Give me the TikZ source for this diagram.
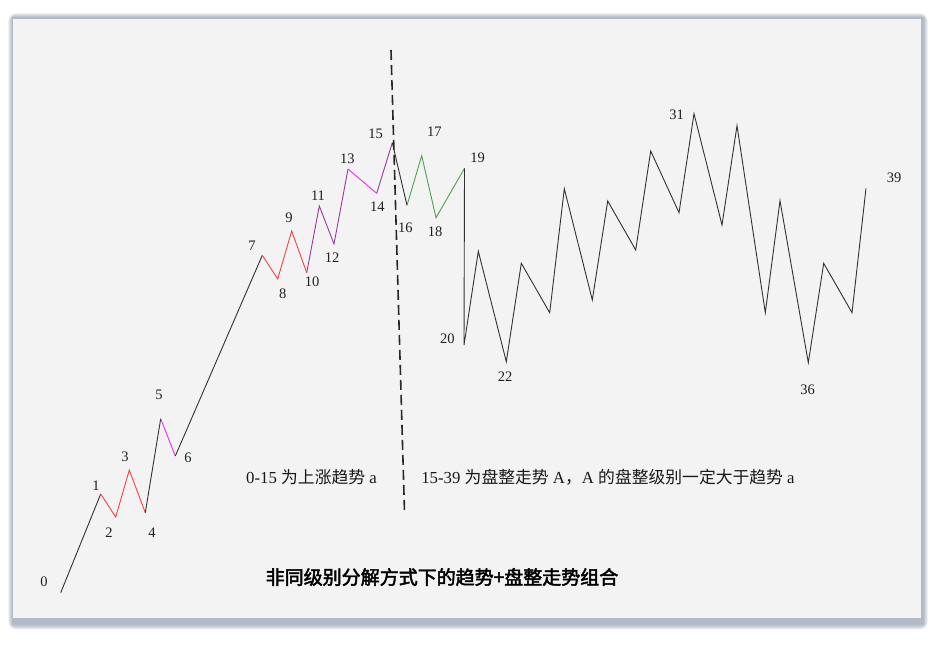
\documentclass[tikz,border=0pt]{standalone}
\usepackage{fontspec}
\setmainfont{Liberation Serif}
\newfontfamily\cjk{Noto Sans CJK SC}
\newfontfamily\cjkbf[FakeBold=2.5]{Noto Sans CJK SC}
\definecolor{fondo}{RGB}{243,243,243}
\definecolor{sombra}{RGB}{90,110,135}
\definecolor{rojo}{RGB}{255,64,64}
\definecolor{rosa}{RGB}{245,40,245}
\definecolor{morado}{RGB}{150,60,150}
\definecolor{verde}{RGB}{80,160,80}
\definecolor{gris}{RGB}{50,50,50}

\begin{document}
\begin{tikzpicture}[x=1pt, y=-1pt,
        etiqueta/.style={inner sep=0pt, font=\fontsize{14.5}{14.5}\selectfont, text=black!88},
        texto/.style={inner sep=0pt, font=\fontsize{16.8}{16.8}\selectfont, text=black!90},
        titulo/.style={inner sep=0pt, font=\fontsize{19}{19}\selectfont\cjkbf, text=black},
        tramo/.style={draw=gris, line width=0.9pt, line join=miter},
        corte/.style={draw=black!85, line width=1.6pt, dash pattern=on 10pt off 5pt}
    ]
    \useasboundingbox (0,0) rectangle (941,646);
    % marco con sombra
    \foreach \d in {1,...,8}
        \fill[sombra, opacity=0.08, rounded corners=\d pt] (13-0.6*\d,18-0.6*\d) rectangle (923+0.6*\d,624+0.7*\d);
    \fill[fondo] (13,19) rectangle (921,618);

    % puntos de la onda
    \coordinate (p0) at (60.7,592.7);  \coordinate (p1) at (100.7,494);   \coordinate (p2) at (115.7,517);
    \coordinate (p3) at (129.3,470);   \coordinate (p4) at (145.3,512.7); \coordinate (p5) at (160.7,418.7);
    \coordinate (p6) at (175.3,456);   \coordinate (p7) at (262.3,255.3); \coordinate (p8) at (277.7,279);
    \coordinate (p9) at (291.7,231);   \coordinate (p10) at (306.7,272.7);\coordinate (p11) at (319.3,206);
    \coordinate (p12) at (334,244);    \coordinate (p13) at (348,169);    \coordinate (p14) at (376.7,193.3);
    \coordinate (p15) at (392.3,142.7);\coordinate (p16) at (407,205.3);  \coordinate (p17) at (421.7,155.7);
    \coordinate (p18) at (436,217.7);  \coordinate (p19) at (464.5,168.3);\coordinate (p20) at (464,345);
    \coordinate (p21) at (478.3,251.3);\coordinate (p22) at (506.3,361.7);\coordinate (p23) at (521.3,263.3);
    \coordinate (p24) at (549.7,312.7);\coordinate (p25) at (564.3,188.7);\coordinate (p26) at (592.3,300);
    \coordinate (p27) at (607.7,201);  \coordinate (p28) at (635.7,250);  \coordinate (p29) at (650.7,151);
    \coordinate (p30) at (679,212.7);  \coordinate (p31) at (694,113.7);  \coordinate (p32) at (722,225);
    \coordinate (p33) at (737,125.7);  \coordinate (p34) at (765.3,312.7);\coordinate (p35) at (780,200.7);
    \coordinate (p36) at (808.3,362.7);\coordinate (p37) at (823.7,263.3);\coordinate (p38) at (852,312.7);
    \coordinate (p39) at (866,188.3);

    % tramos
    \draw[tramo] (p0) -- (p1);
    \draw[tramo, draw=rojo] (p1) -- (p2) -- (p3) -- (p4);
    \draw[tramo] (p4) -- (p5);
    \draw[tramo, draw=rosa] (p5) -- (p6);
    \draw[tramo] (p6) -- (p7);
    \draw[tramo, draw=rojo] (p7) -- (p8) -- (p9) -- (p10);
    \draw[tramo, draw=morado] (p10) -- (p11) -- (p12) -- (p13);
    \draw[tramo, draw=rosa] (p13) -- (p14);
    \draw[tramo, draw=morado] (p14) -- (p15);
    \draw[tramo] (p15) -- (p16);
    \draw[tramo, draw=verde] (p16) -- (p17) -- (p18) -- (p19);
    \draw[tramo] (p19) -- (p20) -- (p21) -- (p22) -- (p23) -- (p24) -- (p25) -- (p26) -- (p27)
        -- (p28) -- (p29) -- (p30) -- (p31) -- (p32) -- (p33) -- (p34) -- (p35) -- (p36)
        -- (p37) -- (p38) -- (p39);

    % etiquetas
    \node[etiqueta] (e0) at (44,582) {0};
    \node[etiqueta] (e1) at (96,486) {1};
    \node[etiqueta] (e2) at (109,533) {2};
    \node[etiqueta] (e3) at (125,457) {3};
    \node[etiqueta] (e4) at (152,533) {4};
    \node[etiqueta] (e5) at (159,395) {5};
    \node[etiqueta] (e6) at (188,458) {6};
    \node[etiqueta] (e7) at (252,245.7) {7};
    \node[etiqueta] (e8) at (282.7,294) {8};
    \node[etiqueta] (e9) at (289,218) {9};
    \node[etiqueta] (e10) at (312,282) {10};
    \node[etiqueta] (e11) at (318,195.7) {11};
    \node[etiqueta] (e12) at (332,258) {12};
    \node[etiqueta] (e13) at (347.3,158.3) {13};
    \node[etiqueta] (e14) at (377.3,206.7) {14};
    \node[etiqueta] (e15) at (375.7,133.3) {15};
    \node[etiqueta] (e16) at (405.3,227.3) {16};
    \node[etiqueta] (e17) at (434.3,132) {17};
    \node[etiqueta] (e18) at (435,232) {18};
    \node[etiqueta] (e19) at (477.7,157.3) {19};
    \node[etiqueta] (e20) at (447.3,338.7) {20};
    \node[etiqueta] (e22) at (505,376.7) {22};
    \node[etiqueta] (e31) at (676.7,115) {31};
    \node[etiqueta] (e36) at (807.7,389.3) {36};
    \node[etiqueta] (e39) at (894,177.3) {39};

    % division
    \coordinate (corte-a) at (391,50);
    \coordinate (corte-b) at (404.5,512);
    \draw[corte] (corte-a) -- (corte-b);

    \node[texto] (tendencia) at (311.5,477) {0-15 {\cjk 为上涨趋势} a};
    \node[texto] (consolidacion) at (608,477) {15-39 {\cjk 为盘整走势} A{\cjk ，}A {\cjk 的盘整级别一定大于趋势} a};
    \node[titulo] (rotulo) at (442,577) {非同级别分解方式下的趋势+盘整走势组合};
\end{tikzpicture}
\end{document}
